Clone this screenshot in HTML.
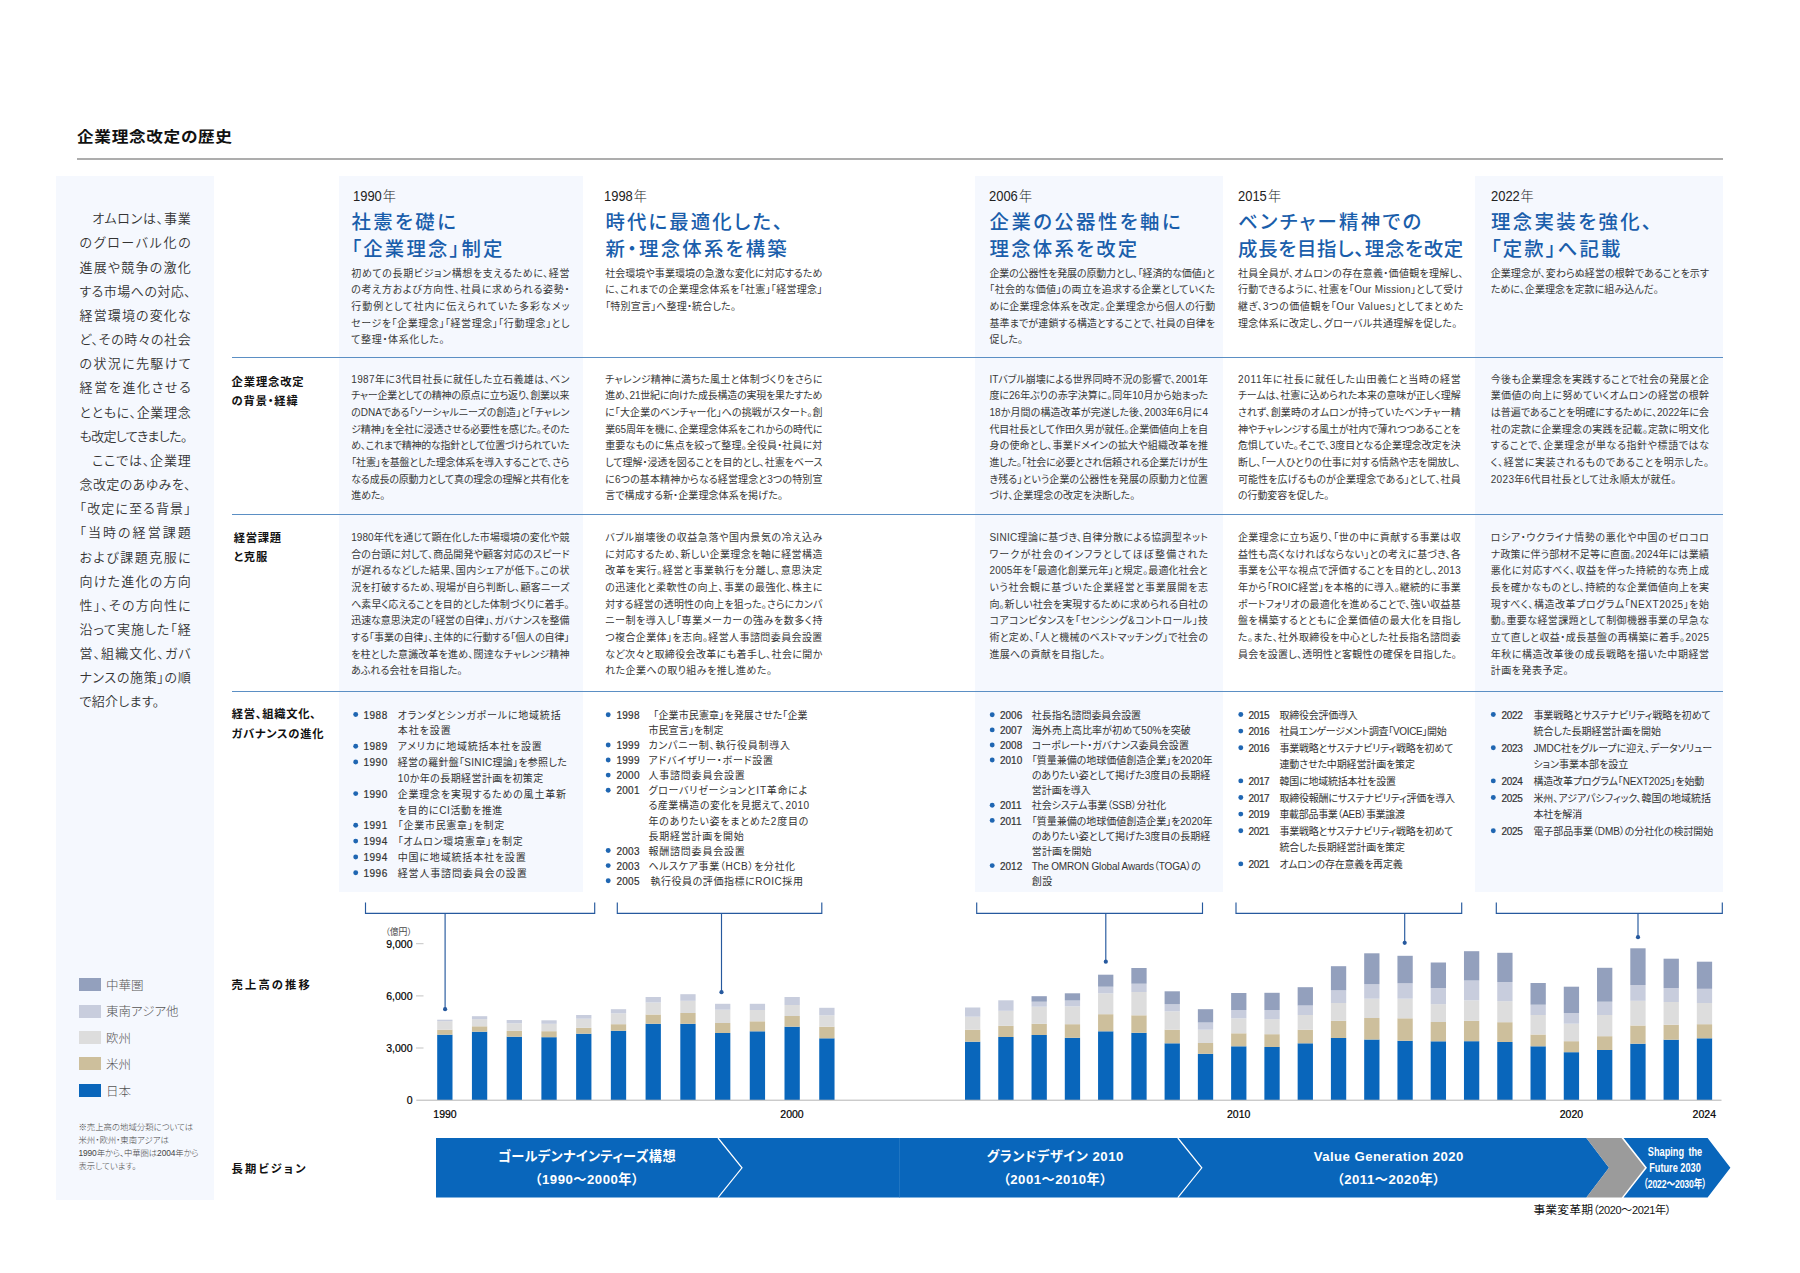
<!DOCTYPE html>
<html lang="ja">
<head>
<meta charset="utf-8">
<title>企業理念改定の歴史</title>
<style>
*{margin:0;padding:0;box-sizing:border-box}
html,body{width:1800px;height:1273px;background:#fff;overflow:hidden}
body{position:relative;font-family:"Liberation Sans","Noto Sans CJK JP",sans-serif;color:#222;font-feature-settings:"palt"}
body>div,.svg{position:absolute}
.svg{left:0;top:0}
.title{left:77.2px;top:124.2px;font-size:15px;font-weight:700;letter-spacing:.6px;line-height:26px;color:#111;white-space:nowrap;transform:scaleX(1.11);transform-origin:0 50%}
.rule{left:77px;top:158.4px;width:1645.5px;height:1.15px;background:#adadad}
.bgp{background:#f5f8fe}
.hr{left:231.8px;width:1490.8px;height:1.2px;background:#5b8fc4}
.blk{white-space:nowrap}
.side{font-size:13px;font-weight:350;color:#333}
.side .in{padding-left:12.6px}
.bd{font-size:10px;color:#383838}
.rl{left:231.6px;font-size:11.3px;font-weight:700;line-height:20px;color:#111;white-space:nowrap}
.rl.w{letter-spacing:2.1px}
.yr{font-size:13.2px;font-weight:300;line-height:24px;color:#222;white-space:nowrap}
.yr b{display:inline-block;font-weight:400;font-size:14.4px;transform:scaleX(.9);transform-origin:0 50%;margin-right:-2.4px;vertical-align:baseline}
.hd{font-size:19.4px;font-weight:500;line-height:28px;color:#1a5eab;white-space:nowrap}
.dot{width:5px;height:5px;border-radius:50%;background:#1f66b2}
.ly,.lt{position:absolute;font-size:10px;line-height:16px;color:#333;white-space:nowrap}
.ly{-webkit-text-stroke:.2px #333}

.lgb{left:78.5px;width:22.5px;height:13px}
.lgt{left:106px;font-size:12.5px;font-weight:300;line-height:18px;color:#555;white-space:nowrap}
.fn{left:78.5px;font-size:8.4px;font-weight:300;line-height:13.1px;color:#444;white-space:nowrap}
.ax{font-family:"Liberation Sans",sans-serif;font-size:10.5px;fill:#000;stroke:#000;stroke-width:.2px}
.un{font-family:"Liberation Sans","Noto Sans CJK JP",sans-serif;font-size:8.9px;fill:#4a4a4a}
.bt{width:300px;text-align:center;font-size:13.2px;font-weight:700;line-height:22.6px;color:#fff;white-space:nowrap}
.b2{letter-spacing:.5px}
.bs{width:120px;text-align:center;font-size:12.5px;font-weight:700;line-height:16.05px;color:#fff;white-space:nowrap;transform:scaleX(.735)}
.bs b{word-spacing:2.5px}
.bs span{font-size:11.8px;letter-spacing:-.2px}
.bn{font-size:11.8px;letter-spacing:.15px;line-height:16px;color:#111;white-space:nowrap}
.bn span{font-size:11px;letter-spacing:-.35px}
</style>
</head>
<body>
<div class="title">企業理念改定の歴史</div>
<div class="rule"></div>
<div class="bgp" style="left:56px;top:176px;width:158px;height:1024px"></div>
<div class="bgp" style="left:339.2px;top:176px;width:243.6px;height:715.6px"></div>
<div class="bgp" style="left:974.6px;top:176px;width:248.1px;height:715.6px"></div>
<div class="bgp" style="left:1474.8px;top:176px;width:247.9px;height:715.6px"></div>
<div class="hr" style="top:356.9px"></div>
<div class="hr" style="top:514.0px"></div>
<div class="hr" style="top:690.9px"></div>
<div class="blk side" style="left:79.50px;top:207.33px;width:111.20px;line-height:24.150px"><div class="ln in" style="letter-spacing:0.731px;"><span>オムロンは、事業</span></div><div class="ln" style="letter-spacing:1.649px;"><span>のグローバル化の</span></div><div class="ln" style="letter-spacing:1.207px;"><span>進展や競争の激化</span></div><div class="ln" style="letter-spacing:0.445px;"><span>する市場への対応、</span></div><div class="ln" style="letter-spacing:1.127px;"><span>経営環境の変化な</span></div><div class="ln" style="letter-spacing:0.654px;"><span>ど、その時々の社会</span></div><div class="ln" style="letter-spacing:1.357px;"><span>の状況に先駆けて</span></div><div class="ln" style="letter-spacing:1.636px;"><span>経営を進化させる</span></div><div class="ln" style="letter-spacing:0.670px;"><span>とともに、企業理念</span></div><div class="ln" style="letter-spacing:-0.645px;"><span>も改定してきました。</span></div><div class="ln in" style="letter-spacing:0.798px;"><span>ここでは、企業理</span></div><div class="ln" style="letter-spacing:0.412px;"><span>念改定のあゆみを、</span></div><div class="ln" style="letter-spacing:1.129px;"><span>「改定に至る背景」</span></div><div class="ln" style="letter-spacing:2.022px;"><span>「当時の経営課題</span></div><div class="ln" style="letter-spacing:1.473px;"><span>および課題克服に</span></div><div class="ln" style="letter-spacing:1.225px;"><span>向けた進化の方向</span></div><div class="ln" style="letter-spacing:1.175px;"><span>性」、その方向性に</span></div><div class="ln" style="letter-spacing:0.955px;"><span>沿って実施した「経</span></div><div class="ln" style="letter-spacing:1.062px;"><span>営、組織文化、ガバ</span></div><div class="ln" style="letter-spacing:0.656px;"><span>ナンスの施策」の順</span></div><div class="ln" style="letter-spacing:0.291px;"><span>で紹介します。</span></div></div>
<div class="rl" style="left:231.6px;top:372.6px;line-height:19.5px;letter-spacing:0.85px">企業理念改定<br>の背景・経緯</div>
<div class="rl" style="left:233.7px;top:528.5px;line-height:19.6px;letter-spacing:0.75px">経営課題<br>と克服</div>
<div class="rl" style="left:231.8px;top:703.9px;line-height:20.4px;letter-spacing:0.70px">経営、組織文化、<br>ガバナンスの進化</div>
<div class="rl w" style="top:975.3px">売上高の推移</div>
<div class="rl w" style="top:1158.6px">長期ビジョン</div>
<div class="yr" style="left:353.1px;top:184.3px"><b>1990</b><span>年</span></div>
<div class="hd" style="left:351.4px;top:208.1px;letter-spacing:2.435px">社憲を礎に</div>
<div class="hd" style="left:351.4px;top:235.4px;letter-spacing:2.184px">「企業理念」制定</div>
<div class="blk bd" style="left:351.20px;top:265.56px;width:218.30px;line-height:16.670px"><div class="ln" style="letter-spacing:0.642px;"><span>初めての長期ビジョン構想を支えるために、経営</span></div><div class="ln" style="letter-spacing:0.686px;"><span>の考え方および方向性、社員に求められる姿勢・</span></div><div class="ln" style="letter-spacing:1.023px;"><span>行動例として社内に伝えられていた多彩なメッ</span></div><div class="ln" style="letter-spacing:0.559px;"><span>セージを「企業理念」「経営理念」「行動理念」とし</span></div><div class="ln" style="letter-spacing:0.664px;"><span>て整理・体系化した。</span></div></div>
<div class="blk bd" style="left:351.20px;top:371.77px;width:218.30px;line-height:16.670px"><div class="ln" style="letter-spacing:0.399px;"><span>1987年に3代目社長に就任した立石義雄は、ベン</span></div><div class="ln" style="letter-spacing:-0.242px;"><span>チャー企業としての精神の原点に立ち返り、創業以来</span></div><div class="ln" style="letter-spacing:-0.045px;"><span>のDNAである「ソーシャルニーズの創造」と「チャレン</span></div><div class="ln" style="letter-spacing:-0.155px;"><span>ジ精神」を全社に浸透させる必要性を感じた。そのた</span></div><div class="ln" style="letter-spacing:-0.249px;"><span>め、これまで精神的な指針として位置づけられていた</span></div><div class="ln" style="letter-spacing:-0.148px;"><span>「社憲」を基盤とした理念体系を導入することで、さら</span></div><div class="ln" style="letter-spacing:-0.164px;"><span>なる成長の原動力として真の理念の理解と共有化を</span></div><div class="ln" style="letter-spacing:-0.155px;"><span>進めた。</span></div></div>
<div class="blk bd" style="left:351.20px;top:529.87px;width:218.30px;line-height:16.670px"><div class="ln" style="letter-spacing:0.081px;"><span>1980年代を通じて顕在化した市場環境の変化や競</span></div><div class="ln" style="letter-spacing:0.094px;"><span>合の台頭に対して、商品開発や顧客対応のスピード</span></div><div class="ln" style="letter-spacing:0.345px;"><span>が遅れるなどした結果、国内シェアが低下。この状</span></div><div class="ln" style="letter-spacing:0.310px;"><span>況を打破するため、現場が自ら判断し、顧客ニーズ</span></div><div class="ln" style="letter-spacing:0.026px;"><span>へ素早く応えることを目的とした体制づくりに着手。</span></div><div class="ln" style="letter-spacing:-0.055px;"><span>迅速な意思決定の「経営の自律」、ガバナンスを整備</span></div><div class="ln" style="letter-spacing:-0.068px;"><span>する「事業の自律」、主体的に行動する「個人の自律」</span></div><div class="ln" style="letter-spacing:0.163px;"><span>を柱とした意識改革を進め、闊達なチャレンジ精神</span></div><div class="ln" style="letter-spacing:0.087px;"><span>あふれる会社を目指した。</span></div></div>
<div class="ly" style="left:363.5px;top:707.6px;letter-spacing:0.50px">1988</div><div class="lt" style="left:397.7px;top:707.6px;letter-spacing:0.808px;"><span>オランダとシンガポールに地域統括</span></div>
<div class="lt" style="left:397.7px;top:723.4px;letter-spacing:0.941px;"><span>本社を設置</span></div>
<div class="ly" style="left:363.5px;top:739.3px;letter-spacing:0.50px">1989</div><div class="lt" style="left:397.7px;top:739.3px;letter-spacing:0.779px;"><span>アメリカに地域統括本社を設置</span></div>
<div class="ly" style="left:363.5px;top:755.1px;letter-spacing:0.50px">1990</div><div class="lt" style="left:397.7px;top:755.1px;letter-spacing:0.288px;"><span>経営の羅針盤「SINIC理論」を参照した</span></div>
<div class="lt" style="left:397.7px;top:770.9px;letter-spacing:0.422px;"><span>10か年の長期経営計画を初策定</span></div>
<div class="ly" style="left:363.5px;top:786.8px;letter-spacing:0.50px">1990</div><div class="lt" style="left:397.7px;top:786.8px;letter-spacing:0.794px;"><span>企業理念を実現するための風土革新</span></div>
<div class="lt" style="left:397.7px;top:802.6px;letter-spacing:0.651px;"><span>を目的にCI活動を推進</span></div>
<div class="ly" style="left:363.5px;top:818.4px;letter-spacing:0.50px">1991</div><div class="lt" style="left:397.7px;top:818.4px;letter-spacing:0.737px;"><span>「企業市民憲章」を制定</span></div>
<div class="ly" style="left:363.5px;top:834.2px;letter-spacing:0.50px">1994</div><div class="lt" style="left:397.7px;top:834.2px;letter-spacing:0.738px;"><span>「オムロン環境憲章」を制定</span></div>
<div class="ly" style="left:363.5px;top:850.1px;letter-spacing:0.50px">1994</div><div class="lt" style="left:397.7px;top:850.1px;letter-spacing:0.830px;"><span>中国に地域統括本社を設置</span></div>
<div class="ly" style="left:363.5px;top:865.9px;letter-spacing:0.50px">1996</div><div class="lt" style="left:397.7px;top:865.9px;letter-spacing:0.851px;"><span>経営人事諮問委員会の設置</span></div>
<div class="yr" style="left:604.1px;top:184.3px"><b>1998</b><span>年</span></div>
<div class="hd" style="left:605.4px;top:208.1px;letter-spacing:2.143px">時代に最適化した、</div>
<div class="hd" style="left:605.4px;top:235.4px;letter-spacing:2.255px">新・理念体系を構築</div>
<div class="blk bd" style="left:605.20px;top:265.56px;width:217.20px;line-height:16.670px"><div class="ln" style="letter-spacing:0.057px;"><span>社会環境や事業環境の急激な変化に対応するため</span></div><div class="ln" style="letter-spacing:0.299px;"><span>に、これまでの企業理念体系を「社憲」「経営理念」</span></div><div class="ln" style="letter-spacing:0.178px;"><span>「特別宣言」へ整理・統合した。</span></div></div>
<div class="blk bd" style="left:605.20px;top:371.77px;width:217.20px;line-height:16.670px"><div class="ln" style="letter-spacing:0.202px;"><span>チャレンジ精神に満ちた風土と体制づくりをさらに</span></div><div class="ln" style="letter-spacing:-0.208px;"><span>進め、21世紀に向けた成長構造の実現を果たすため</span></div><div class="ln" style="letter-spacing:0.094px;"><span>に「大企業のベンチャー化」への挑戦がスタート。創</span></div><div class="ln" style="letter-spacing:-0.131px;"><span>業65周年を機に、企業理念体系をこれからの時代に</span></div><div class="ln" style="letter-spacing:0.141px;"><span>重要なものに焦点を絞って整理。全役員・社員に対</span></div><div class="ln"><span>して理解・浸透を図ることを目的とし、社憲をベース</span></div><div class="ln" style="letter-spacing:0.111px;"><span>に6つの基本精神からなる経営理念と3つの特別宣</span></div><div class="ln" style="letter-spacing:0.094px;"><span>言で構成する新・企業理念体系を掲げた。</span></div></div>
<div class="blk bd" style="left:605.20px;top:529.87px;width:217.20px;line-height:16.670px"><div class="ln" style="letter-spacing:0.606px;"><span>バブル崩壊後の収益急落や国内景気の冷え込み</span></div><div class="ln" style="letter-spacing:0.396px;"><span>に対応するため、新しい企業理念を軸に経営構造</span></div><div class="ln" style="letter-spacing:0.546px;"><span>改革を実行。経営と事業執行を分離し、意思決定</span></div><div class="ln" style="letter-spacing:0.468px;"><span>の迅速化と柔軟性の向上、事業の最強化、株主に</span></div><div class="ln" style="letter-spacing:0.154px;"><span>対する経営の透明性の向上を狙った。さらにカンパ</span></div><div class="ln" style="letter-spacing:0.582px;"><span>ニー制を導入し「専業メーカーの強みを数多く持</span></div><div class="ln" style="letter-spacing:0.408px;"><span>つ複合企業体」を志向。経営人事諮問委員会設置</span></div><div class="ln" style="letter-spacing:0.382px;"><span>など次々と取締役会改革にも着手し、社会に開か</span></div><div class="ln" style="letter-spacing:0.438px;"><span>れた企業への取り組みを推し進めた。</span></div></div>
<div class="ly" style="left:616.4px;top:707.9px;letter-spacing:0.30px">1998</div><div class="lt" style="left:653.3px;top:707.9px;letter-spacing:0.124px;"><span>「企業市民憲章」を発展させた「企業</span></div>
<div class="lt" style="left:648.4px;top:723.0px;letter-spacing:0.109px;"><span>市民宣言」を制定</span></div>
<div class="ly" style="left:616.4px;top:738.1px;letter-spacing:0.30px">1999</div><div class="lt" style="left:648.4px;top:738.1px;letter-spacing:0.766px;"><span>カンパニー制、執行役員制導入</span></div>
<div class="ly" style="left:616.4px;top:753.1px;letter-spacing:0.30px">1999</div><div class="lt" style="left:648.4px;top:753.1px;letter-spacing:0.761px;"><span>アドバイザリー・ボード設置</span></div>
<div class="ly" style="left:616.4px;top:768.2px;letter-spacing:0.30px">2000</div><div class="lt" style="left:648.4px;top:768.2px;letter-spacing:0.800px;"><span>人事諮問委員会設置</span></div>
<div class="ly" style="left:616.4px;top:783.3px;letter-spacing:0.30px">2001</div><div class="lt" style="left:648.4px;top:783.3px;letter-spacing:0.732px;"><span>グローバリゼーションとIT革命によ</span></div>
<div class="lt" style="left:648.4px;top:798.4px;letter-spacing:0.498px;"><span>る産業構造の変化を見据えて、2010</span></div>
<div class="lt" style="left:648.4px;top:813.5px;letter-spacing:0.752px;"><span>年のありたい姿をまとめた2度目の</span></div>
<div class="lt" style="left:648.4px;top:828.5px;letter-spacing:0.771px;"><span>長期経営計画を開始</span></div>
<div class="ly" style="left:616.4px;top:843.6px;letter-spacing:0.30px">2003</div><div class="lt" style="left:648.4px;top:843.6px;letter-spacing:0.800px;"><span>報酬諮問委員会設置</span></div>
<div class="ly" style="left:616.4px;top:858.7px;letter-spacing:0.30px">2003</div><div class="lt" style="left:648.4px;top:858.7px;letter-spacing:0.613px;"><span>ヘルスケア事業（HCB）を分社化</span></div>
<div class="ly" style="left:616.4px;top:873.8px;letter-spacing:0.30px">2005</div><div class="lt" style="left:650.5px;top:873.8px;letter-spacing:0.541px;"><span>執行役員の評価指標にROIC採用</span></div>
<div class="yr" style="left:989.3px;top:184.3px"><b>2006</b><span>年</span></div>
<div class="hd" style="left:989.6px;top:208.1px;letter-spacing:2.412px">企業の公器性を軸に</div>
<div class="hd" style="left:989.6px;top:235.4px;letter-spacing:2.225px">理念体系を改定</div>
<div class="blk bd" style="left:989.40px;top:265.56px;width:225.80px;line-height:16.670px"><div class="ln" style="letter-spacing:-0.150px;"><span>企業の公器性を発展の原動力とし、「経済的な価値」と</span></div><div class="ln" style="letter-spacing:0.308px;"><span>「社会的な価値」の両立を追求する企業としていくた</span></div><div class="ln" style="letter-spacing:0.181px;"><span>めに企業理念体系を改定。企業理念から個人の行動</span></div><div class="ln" style="letter-spacing:0.137px;"><span>基準までが連鎖する構造とすることで、社員の自律を</span></div><div class="ln" style="letter-spacing:0.159px;"><span>促した。</span></div></div>
<div class="blk bd" style="left:989.40px;top:371.77px;width:218.60px;line-height:16.670px"><div class="ln" style="letter-spacing:-0.024px;"><span>ITバブル崩壊による世界同時不況の影響で、2001年</span></div><div class="ln"><span>度に26年ぶりの赤字決算に。同年10月から始まった</span></div><div class="ln" style="letter-spacing:0.095px;"><span>18か月間の構造改革が完遂した後、2003年6月に4</span></div><div class="ln" style="letter-spacing:-0.072px;"><span>代目社長として作田久男が就任。企業価値向上を自</span></div><div class="ln" style="letter-spacing:0.186px;"><span>身の使命とし、事業ドメインの拡大や組織改革を推</span></div><div class="ln" style="letter-spacing:-0.188px;"><span>進した。「社会に必要とされ信頼される企業だけが生</span></div><div class="ln" style="letter-spacing:0.091px;"><span>き残る」という企業の公器性を発展の原動力と位置</span></div><div class="ln"><span>づけ、企業理念の改定を決断した。</span></div></div>
<div class="blk bd" style="left:989.40px;top:529.87px;width:218.60px;line-height:16.670px"><div class="ln" style="letter-spacing:0.310px;"><span>SINIC理論に基づき、自律分散による協調型ネット</span></div><div class="ln" style="letter-spacing:1.108px;"><span>ワークが社会のインフラとしてほぼ整備された</span></div><div class="ln" style="letter-spacing:0.187px;"><span>2005年を「最適化創業元年」と規定。最適化社会と</span></div><div class="ln" style="letter-spacing:0.727px;"><span>いう社会観に基づいた企業経営と事業展開を志</span></div><div class="ln" style="letter-spacing:0.095px;"><span>向。新しい社会を実現するために求められる自社の</span></div><div class="ln" style="letter-spacing:0.398px;"><span>コアコンピタンスを「センシング&amp;コントロール」技</span></div><div class="ln" style="letter-spacing:0.284px;"><span>術と定め、「人と機械のベストマッチング」で社会の</span></div><div class="ln" style="letter-spacing:0.310px;"><span>進展への貢献を目指した。</span></div></div>
<div class="ly" style="left:1000.1px;top:707.9px;letter-spacing:-0.05px">2006</div><div class="lt" style="left:1031.8px;top:707.9px;letter-spacing:-0.070px;"><span>社長指名諮問委員会設置</span></div>
<div class="ly" style="left:1000.1px;top:723.0px;letter-spacing:-0.05px">2007</div><div class="lt" style="left:1031.8px;top:723.0px;letter-spacing:0.050px;"><span>海外売上高比率が初めて50%を突破</span></div>
<div class="ly" style="left:1000.1px;top:738.1px;letter-spacing:-0.05px">2008</div><div class="lt" style="left:1031.8px;top:738.1px;letter-spacing:0.033px;"><span>コーポレート・ガバナンス委員会設置</span></div>
<div class="ly" style="left:1000.1px;top:753.1px;letter-spacing:-0.05px">2010</div><div class="lt" style="left:1031.8px;top:753.1px;letter-spacing:-0.021px;"><span>「質量兼備の地球価値創造企業」を2020年</span></div>
<div class="lt" style="left:1031.8px;top:768.2px;letter-spacing:0.055px;"><span>のありたい姿として掲げた3度目の長期経</span></div>
<div class="lt" style="left:1031.8px;top:783.3px;letter-spacing:-0.047px;"><span>営計画を導入</span></div>
<div class="ly" style="left:1000.1px;top:798.4px;letter-spacing:-0.05px">2011</div><div class="lt" style="left:1031.8px;top:798.4px;letter-spacing:-0.128px;"><span>社会システム事業（SSB）分社化</span></div>
<div class="ly" style="left:1000.1px;top:813.5px;letter-spacing:-0.05px">2011</div><div class="lt" style="left:1031.8px;top:813.5px;letter-spacing:-0.021px;"><span>「質量兼備の地球価値創造企業」を2020年</span></div>
<div class="lt" style="left:1031.8px;top:828.5px;letter-spacing:0.055px;"><span>のありたい姿として掲げた3度目の長期経</span></div>
<div class="lt" style="left:1031.8px;top:843.6px;letter-spacing:0.093px;"><span>営計画を開始</span></div>
<div class="ly" style="left:1000.1px;top:858.7px;letter-spacing:-0.05px">2012</div><div class="lt" style="left:1031.8px;top:858.7px;letter-spacing:-0.145px;"><span>The OMRON Global Awards（TOGA）の</span></div>
<div class="lt" style="left:1031.8px;top:873.8px;letter-spacing:0.400px;"><span>創設</span></div>
<div class="yr" style="left:1238.4px;top:184.3px"><b>2015</b><span>年</span></div>
<div class="hd" style="left:1238.1px;top:208.1px;letter-spacing:2.300px">ベンチャー精神での</div>
<div class="hd" style="left:1238.1px;top:235.4px;letter-spacing:0.737px">成長を目指し、理念を改定</div>
<div class="blk bd" style="left:1237.90px;top:265.56px;width:225.40px;line-height:16.670px"><div class="ln" style="letter-spacing:0.286px;"><span>社員全員が、オムロンの存在意義・価値観を理解し、</span></div><div class="ln" style="letter-spacing:0.303px;"><span>行動できるように、社憲を「Our Mission」として受け</span></div><div class="ln" style="letter-spacing:0.558px;"><span>継ぎ、3つの価値観を「Our Values」としてまとめた</span></div><div class="ln" style="letter-spacing:0.303px;"><span>理念体系に改定し、グローバル共通理解を促した。</span></div></div>
<div class="blk bd" style="left:1237.90px;top:371.77px;width:222.80px;line-height:16.670px"><div class="ln" style="letter-spacing:0.708px;"><span>2011年に社長に就任した山田義仁と当時の経営</span></div><div class="ln" style="letter-spacing:-0.123px;"><span>チームは、社憲に込められた本来の意味が正しく理解</span></div><div class="ln" style="letter-spacing:0.097px;"><span>されず、創業時のオムロンが持っていたベンチャー精</span></div><div class="ln" style="letter-spacing:-0.098px;"><span>神やチャレンジする風土が社内で薄れつつあることを</span></div><div class="ln" style="letter-spacing:-0.089px;"><span>危惧していた。そこで、3度目となる企業理念改定を決</span></div><div class="ln" style="letter-spacing:-0.054px;"><span>断し、「一人ひとりの仕事に対する情熱や志を開放し、</span></div><div class="ln" style="letter-spacing:0.100px;"><span>可能性を広げるものが企業理念である」として、社員</span></div><div class="ln" style="letter-spacing:-0.054px;"><span>の行動変容を促した。</span></div></div>
<div class="blk bd" style="left:1237.90px;top:529.87px;width:222.80px;line-height:16.670px"><div class="ln" style="letter-spacing:0.416px;"><span>企業理念に立ち返り、「世の中に貢献する事業は収</span></div><div class="ln" style="letter-spacing:0.189px;"><span>益性も高くなければならない」との考えに基づき、各</span></div><div class="ln" style="letter-spacing:0.221px;"><span>事業を公平な視点で評価することを目的とし、2013</span></div><div class="ln" style="letter-spacing:0.248px;"><span>年から「ROIC経営」を本格的に導入。継続的に事業</span></div><div class="ln" style="letter-spacing:0.166px;"><span>ポートフォリオの最適化を進めることで、強い収益基</span></div><div class="ln" style="letter-spacing:0.549px;"><span>盤を構築するとともに企業価値の最大化を目指し</span></div><div class="ln" style="letter-spacing:0.384px;"><span>た。また、社外取締役を中心とした社長指名諮問委</span></div><div class="ln" style="letter-spacing:0.248px;"><span>員会を設置し、透明性と客観性の確保を目指した。</span></div></div>
<div class="ly" style="left:1248.6px;top:707.6px;letter-spacing:-0.40px">2015</div><div class="lt" style="left:1279.4px;top:707.6px;letter-spacing:-0.243px;"><span>取締役会評価導入</span></div>
<div class="ly" style="left:1248.6px;top:724.2px;letter-spacing:-0.40px">2016</div><div class="lt" style="left:1279.4px;top:724.2px;letter-spacing:-0.337px;"><span>社員エンゲージメント調査「VOICE」開始</span></div>
<div class="ly" style="left:1248.6px;top:740.8px;letter-spacing:-0.40px">2016</div><div class="lt" style="left:1279.4px;top:740.8px;letter-spacing:-0.207px;"><span>事業戦略とサステナビリティ戦略を初めて</span></div>
<div class="lt" style="left:1279.4px;top:757.4px;letter-spacing:-0.132px;"><span>連動させた中期経営計画を策定</span></div>
<div class="ly" style="left:1248.6px;top:774.0px;letter-spacing:-0.40px">2017</div><div class="lt" style="left:1279.4px;top:774.0px;letter-spacing:-0.207px;"><span>韓国に地域統括本社を設置</span></div>
<div class="ly" style="left:1248.6px;top:790.6px;letter-spacing:-0.40px">2017</div><div class="lt" style="left:1279.4px;top:790.6px;letter-spacing:-0.205px;"><span>取締役報酬にサステナビリティ評価を導入</span></div>
<div class="ly" style="left:1248.6px;top:807.2px;letter-spacing:-0.40px">2019</div><div class="lt" style="left:1279.4px;top:807.2px;letter-spacing:-0.315px;"><span>車載部品事業（AEB）事業譲渡</span></div>
<div class="ly" style="left:1248.6px;top:823.8px;letter-spacing:-0.40px">2021</div><div class="lt" style="left:1279.4px;top:823.8px;letter-spacing:-0.207px;"><span>事業戦略とサステナビリティ戦略を初めて</span></div>
<div class="lt" style="left:1279.4px;top:840.4px;letter-spacing:-0.136px;"><span>統合した長期経営計画を策定</span></div>
<div class="ly" style="left:1248.6px;top:857.0px;letter-spacing:-0.40px">2021</div><div class="lt" style="left:1279.4px;top:857.0px;letter-spacing:-0.207px;"><span>オムロンの存在意義を再定義</span></div>
<div class="yr" style="left:1490.9px;top:184.3px"><b>2022</b><span>年</span></div>
<div class="hd" style="left:1490.9px;top:208.1px;letter-spacing:2.416px">理念実装を強化、</div>
<div class="hd" style="left:1490.9px;top:235.4px;letter-spacing:2.150px">「定款」へ記載</div>
<div class="blk bd" style="left:1490.70px;top:265.56px;width:218.30px;line-height:16.670px"><div class="ln" style="letter-spacing:0.080px;"><span>企業理念が、変わらぬ経営の根幹であることを示す</span></div><div class="ln" style="letter-spacing:0.080px;"><span>ために、企業理念を定款に組み込んだ。</span></div></div>
<div class="blk bd" style="left:1490.70px;top:371.77px;width:218.30px;line-height:16.670px"><div class="ln" style="letter-spacing:0.321px;"><span>今後も企業理念を実践することで社会の発展と企</span></div><div class="ln" style="letter-spacing:0.351px;"><span>業価値の向上に努めていくオムロンの経営の根幹</span></div><div class="ln" style="letter-spacing:0.014px;"><span>は普遍であることを明確にするために、2022年に会</span></div><div class="ln" style="letter-spacing:0.263px;"><span>社の定款に企業理念の実践を記載。定款に明文化</span></div><div class="ln" style="letter-spacing:0.584px;"><span>することで、企業理念が単なる指針や標語ではな</span></div><div class="ln" style="letter-spacing:0.560px;"><span>く、経営に実装されるものであることを明示した。</span></div><div class="ln" style="letter-spacing:0.336px;"><span>2023年6代目社長として辻永順太が就任。</span></div></div>
<div class="blk bd" style="left:1490.70px;top:529.87px;width:218.30px;line-height:16.670px"><div class="ln" style="letter-spacing:0.610px;"><span>ロシア・ウクライナ情勢の悪化や中国のゼロコロ</span></div><div class="ln" style="letter-spacing:0.187px;"><span>ナ政策に伴う部材不足等に直面。2024年には業績</span></div><div class="ln" style="letter-spacing:0.556px;"><span>悪化に対応すべく、収益を伴った持続的な売上成</span></div><div class="ln" style="letter-spacing:0.436px;"><span>長を確かなものとし、持続的な企業価値向上を実</span></div><div class="ln" style="letter-spacing:0.560px;"><span>現すべく、構造改革プログラム「NEXT2025」を始</span></div><div class="ln" style="letter-spacing:0.374px;"><span>動。重要な経営課題として制御機器事業の早急な</span></div><div class="ln" style="letter-spacing:0.449px;"><span>立て直しと収益・成長基盤の再構築に着手。2025</span></div><div class="ln" style="letter-spacing:0.541px;"><span>年秋に構造改革後の成長戦略を描いた中期経営</span></div><div class="ln" style="letter-spacing:0.495px;"><span>計画を発表予定。</span></div></div>
<div class="ly" style="left:1501.5px;top:707.6px;letter-spacing:-0.30px">2022</div><div class="lt" style="left:1533.4px;top:707.6px;letter-spacing:-0.018px;"><span>事業戦略とサステナビリティ戦略を初めて</span></div>
<div class="lt" style="left:1533.4px;top:724.2px;letter-spacing:0.030px;"><span>統合した長期経営計画を開始</span></div>
<div class="ly" style="left:1501.5px;top:740.8px;letter-spacing:-0.30px">2023</div><div class="lt" style="left:1533.4px;top:740.8px;letter-spacing:-0.068px;"><span>JMDC社をグループに迎え、データソリュー</span></div>
<div class="lt" style="left:1533.4px;top:757.4px;letter-spacing:0.011px;"><span>ション事業本部を設立</span></div>
<div class="ly" style="left:1501.5px;top:774.0px;letter-spacing:-0.30px">2024</div><div class="lt" style="left:1533.4px;top:774.0px;letter-spacing:-0.142px;"><span>構造改革プログラム「NEXT2025」を始動</span></div>
<div class="ly" style="left:1501.5px;top:790.6px;letter-spacing:-0.30px">2025</div><div class="lt" style="left:1533.4px;top:790.6px;letter-spacing:-0.018px;"><span>米州、アジアパシフィック、韓国の地域統括</span></div>
<div class="lt" style="left:1533.4px;top:807.2px;letter-spacing:-0.084px;"><span>本社を解消</span></div>
<div class="ly" style="left:1501.5px;top:823.8px;letter-spacing:-0.30px">2025</div><div class="lt" style="left:1533.4px;top:823.8px;letter-spacing:-0.085px;"><span>電子部品事業（DMB）の分社化の検討開始</span></div>
<div class="lgb" style="top:978.0px;background:#93a0bd"></div><div class="lgt" style="top:976.8px">中華圏</div>
<div class="lgb" style="top:1004.5px;background:#c8cddd"></div><div class="lgt" style="top:1003.2px">東南アジア他</div>
<div class="lgb" style="top:1030.9px;background:#dddddd"></div><div class="lgt" style="top:1029.7px">欧州</div>
<div class="lgb" style="top:1057.3px;background:#cdbf9c"></div><div class="lgt" style="top:1056.2px">米州</div>
<div class="lgb" style="top:1083.8px;background:#0966bb"></div><div class="lgt" style="top:1082.6px">日本</div>
<div class="fn" style="top:1120.7px">※売上高の地域分類については<br>米州・欧州・東南アジアは<br><span style="letter-spacing:-.12px">1990年から、中華圏は2004年から</span><br>表示しています。</div>
<svg class="svg" width="1800" height="1273" viewBox="0 0 1800 1273">
<path d="M365.5 902.5V913.3H594.7V902.5M445.1 913.3V1009.2" fill="none" stroke="#26599e" stroke-width="1.15"/><circle cx="445.1" cy="1009.2" r="2.1" fill="#26599e"/>
<path d="M617.3 902.5V913.3H821.8V902.5M721.5 913.3V992.2" fill="none" stroke="#26599e" stroke-width="1.15"/><circle cx="721.5" cy="992.2" r="2.1" fill="#26599e"/>
<path d="M976.7 902.5V913.3H1202.5V902.5M1105.8 913.3V961.7" fill="none" stroke="#26599e" stroke-width="1.15"/><circle cx="1105.8" cy="961.7" r="2.1" fill="#26599e"/>
<path d="M1236.0 902.5V913.3H1461.7V902.5M1404.7 913.3V942.8" fill="none" stroke="#26599e" stroke-width="1.15"/><circle cx="1404.7" cy="942.8" r="2.1" fill="#26599e"/>
<path d="M1496.3 902.5V913.3H1722.3V902.5M1638.0 913.3V937.2" fill="none" stroke="#26599e" stroke-width="1.15"/><circle cx="1638.0" cy="937.2" r="2.1" fill="#26599e"/>
<g fill="#1f66b2"><circle cx="355.7" cy="714.5" r="2.45"/><circle cx="355.7" cy="746.2" r="2.45"/><circle cx="355.7" cy="762.0" r="2.45"/><circle cx="355.7" cy="793.6" r="2.45"/><circle cx="355.7" cy="825.3" r="2.45"/><circle cx="355.7" cy="841.1" r="2.45"/><circle cx="355.7" cy="857.0" r="2.45"/><circle cx="355.7" cy="872.8" r="2.45"/><circle cx="608.2" cy="714.8" r="2.45"/><circle cx="608.2" cy="745.0" r="2.45"/><circle cx="608.2" cy="760.0" r="2.45"/><circle cx="608.2" cy="775.1" r="2.45"/><circle cx="608.2" cy="790.2" r="2.45"/><circle cx="608.2" cy="850.5" r="2.45"/><circle cx="608.2" cy="865.6" r="2.45"/><circle cx="608.2" cy="880.7" r="2.45"/><circle cx="992.2" cy="714.8" r="2.45"/><circle cx="992.2" cy="729.9" r="2.45"/><circle cx="992.2" cy="745.0" r="2.45"/><circle cx="992.2" cy="760.0" r="2.45"/><circle cx="992.2" cy="805.3" r="2.45"/><circle cx="992.2" cy="820.4" r="2.45"/><circle cx="992.2" cy="865.6" r="2.45"/><circle cx="1240.8" cy="714.5" r="2.45"/><circle cx="1240.8" cy="731.1" r="2.45"/><circle cx="1240.8" cy="747.7" r="2.45"/><circle cx="1240.8" cy="780.9" r="2.45"/><circle cx="1240.8" cy="797.5" r="2.45"/><circle cx="1240.8" cy="814.1" r="2.45"/><circle cx="1240.8" cy="830.7" r="2.45"/><circle cx="1240.8" cy="863.9" r="2.45"/><circle cx="1493.3" cy="714.5" r="2.45"/><circle cx="1493.3" cy="747.7" r="2.45"/><circle cx="1493.3" cy="780.9" r="2.45"/><circle cx="1493.3" cy="797.5" r="2.45"/><circle cx="1493.3" cy="830.7" r="2.45"/></g>
<rect x="437.20" y="1034.70" width="15.3" height="65.30" fill="#0966bb"/><rect x="437.20" y="1029.70" width="15.3" height="5.00" fill="#cdbf9c"/><rect x="437.20" y="1021.20" width="15.3" height="8.50" fill="#dddddd"/><rect x="437.20" y="1019.70" width="15.3" height="1.50" fill="#c8cddd"/>
<rect x="471.93" y="1031.70" width="15.3" height="68.30" fill="#0966bb"/><rect x="471.93" y="1026.30" width="15.3" height="5.40" fill="#cdbf9c"/><rect x="471.93" y="1019.20" width="15.3" height="7.10" fill="#dddddd"/><rect x="471.93" y="1016.20" width="15.3" height="3.00" fill="#c8cddd"/>
<rect x="506.66" y="1036.70" width="15.3" height="63.30" fill="#0966bb"/><rect x="506.66" y="1030.80" width="15.3" height="5.90" fill="#cdbf9c"/><rect x="506.66" y="1023.30" width="15.3" height="7.50" fill="#dddddd"/><rect x="506.66" y="1020.00" width="15.3" height="3.30" fill="#c8cddd"/>
<rect x="541.39" y="1037.20" width="15.3" height="62.80" fill="#0966bb"/><rect x="541.39" y="1031.20" width="15.3" height="6.00" fill="#cdbf9c"/><rect x="541.39" y="1023.80" width="15.3" height="7.40" fill="#dddddd"/><rect x="541.39" y="1020.30" width="15.3" height="3.50" fill="#c8cddd"/>
<rect x="576.12" y="1033.70" width="15.3" height="66.30" fill="#0966bb"/><rect x="576.12" y="1027.80" width="15.3" height="5.90" fill="#cdbf9c"/><rect x="576.12" y="1018.70" width="15.3" height="9.10" fill="#dddddd"/><rect x="576.12" y="1015.00" width="15.3" height="3.70" fill="#c8cddd"/>
<rect x="610.85" y="1030.80" width="15.3" height="69.20" fill="#0966bb"/><rect x="610.85" y="1024.20" width="15.3" height="6.60" fill="#cdbf9c"/><rect x="610.85" y="1013.30" width="15.3" height="10.90" fill="#dddddd"/><rect x="610.85" y="1009.20" width="15.3" height="4.10" fill="#c8cddd"/>
<rect x="645.58" y="1023.80" width="15.3" height="76.20" fill="#0966bb"/><rect x="645.58" y="1014.50" width="15.3" height="9.30" fill="#cdbf9c"/><rect x="645.58" y="1002.50" width="15.3" height="12.00" fill="#dddddd"/><rect x="645.58" y="997.00" width="15.3" height="5.50" fill="#c8cddd"/>
<rect x="680.31" y="1023.80" width="15.3" height="76.20" fill="#0966bb"/><rect x="680.31" y="1013.00" width="15.3" height="10.80" fill="#cdbf9c"/><rect x="680.31" y="1000.80" width="15.3" height="12.20" fill="#dddddd"/><rect x="680.31" y="994.20" width="15.3" height="6.60" fill="#c8cddd"/>
<rect x="715.04" y="1033.00" width="15.3" height="67.00" fill="#0966bb"/><rect x="715.04" y="1023.00" width="15.3" height="10.00" fill="#cdbf9c"/><rect x="715.04" y="1009.70" width="15.3" height="13.30" fill="#dddddd"/><rect x="715.04" y="1003.80" width="15.3" height="5.90" fill="#c8cddd"/>
<rect x="749.77" y="1031.30" width="15.3" height="68.70" fill="#0966bb"/><rect x="749.77" y="1021.30" width="15.3" height="10.00" fill="#cdbf9c"/><rect x="749.77" y="1010.00" width="15.3" height="11.30" fill="#dddddd"/><rect x="749.77" y="1003.80" width="15.3" height="6.20" fill="#c8cddd"/>
<rect x="784.50" y="1026.70" width="15.3" height="73.30" fill="#0966bb"/><rect x="784.50" y="1016.00" width="15.3" height="10.70" fill="#cdbf9c"/><rect x="784.50" y="1005.00" width="15.3" height="11.00" fill="#dddddd"/><rect x="784.50" y="997.00" width="15.3" height="8.00" fill="#c8cddd"/>
<rect x="819.23" y="1038.30" width="15.3" height="61.70" fill="#0966bb"/><rect x="819.23" y="1026.70" width="15.3" height="11.60" fill="#cdbf9c"/><rect x="819.23" y="1015.30" width="15.3" height="11.40" fill="#dddddd"/><rect x="819.23" y="1007.80" width="15.3" height="7.50" fill="#c8cddd"/>
<rect x="965.00" y="1041.70" width="15.3" height="58.30" fill="#0966bb"/><rect x="965.00" y="1029.70" width="15.3" height="12.00" fill="#cdbf9c"/><rect x="965.00" y="1016.70" width="15.3" height="13.00" fill="#dddddd"/><rect x="965.00" y="1007.50" width="15.3" height="9.20" fill="#c8cddd"/>
<rect x="998.26" y="1037.00" width="15.3" height="63.00" fill="#0966bb"/><rect x="998.26" y="1025.80" width="15.3" height="11.20" fill="#cdbf9c"/><rect x="998.26" y="1010.80" width="15.3" height="15.00" fill="#dddddd"/><rect x="998.26" y="1000.30" width="15.3" height="10.50" fill="#c8cddd"/>
<rect x="1031.53" y="1035.00" width="15.3" height="65.00" fill="#0966bb"/><rect x="1031.53" y="1023.80" width="15.3" height="11.20" fill="#cdbf9c"/><rect x="1031.53" y="1006.70" width="15.3" height="17.10" fill="#dddddd"/><rect x="1031.53" y="1001.70" width="15.3" height="5.00" fill="#c8cddd"/><rect x="1031.53" y="996.20" width="15.3" height="5.50" fill="#93a0bd"/>
<rect x="1064.80" y="1037.80" width="15.3" height="62.20" fill="#0966bb"/><rect x="1064.80" y="1024.20" width="15.3" height="13.60" fill="#cdbf9c"/><rect x="1064.80" y="1006.30" width="15.3" height="17.90" fill="#dddddd"/><rect x="1064.80" y="1000.50" width="15.3" height="5.80" fill="#c8cddd"/><rect x="1064.80" y="993.30" width="15.3" height="7.20" fill="#93a0bd"/>
<rect x="1098.06" y="1031.30" width="15.3" height="68.70" fill="#0966bb"/><rect x="1098.06" y="1014.20" width="15.3" height="17.10" fill="#cdbf9c"/><rect x="1098.06" y="993.30" width="15.3" height="20.90" fill="#dddddd"/><rect x="1098.06" y="986.70" width="15.3" height="6.60" fill="#c8cddd"/><rect x="1098.06" y="974.70" width="15.3" height="12.00" fill="#93a0bd"/>
<rect x="1131.33" y="1032.80" width="15.3" height="67.20" fill="#0966bb"/><rect x="1131.33" y="1015.30" width="15.3" height="17.50" fill="#cdbf9c"/><rect x="1131.33" y="992.00" width="15.3" height="23.30" fill="#dddddd"/><rect x="1131.33" y="983.70" width="15.3" height="8.30" fill="#c8cddd"/><rect x="1131.33" y="968.00" width="15.3" height="15.70" fill="#93a0bd"/>
<rect x="1164.59" y="1043.30" width="15.3" height="56.70" fill="#0966bb"/><rect x="1164.59" y="1029.70" width="15.3" height="13.60" fill="#cdbf9c"/><rect x="1164.59" y="1011.30" width="15.3" height="18.40" fill="#dddddd"/><rect x="1164.59" y="1004.20" width="15.3" height="7.10" fill="#c8cddd"/><rect x="1164.59" y="991.30" width="15.3" height="12.90" fill="#93a0bd"/>
<rect x="1197.86" y="1053.80" width="15.3" height="46.20" fill="#0966bb"/><rect x="1197.86" y="1043.00" width="15.3" height="10.80" fill="#cdbf9c"/><rect x="1197.86" y="1029.70" width="15.3" height="13.30" fill="#dddddd"/><rect x="1197.86" y="1022.50" width="15.3" height="7.20" fill="#c8cddd"/><rect x="1197.86" y="1009.20" width="15.3" height="13.30" fill="#93a0bd"/>
<rect x="1231.12" y="1046.30" width="15.3" height="53.70" fill="#0966bb"/><rect x="1231.12" y="1033.30" width="15.3" height="13.00" fill="#cdbf9c"/><rect x="1231.12" y="1018.30" width="15.3" height="15.00" fill="#dddddd"/><rect x="1231.12" y="1010.00" width="15.3" height="8.30" fill="#c8cddd"/><rect x="1231.12" y="993.00" width="15.3" height="17.00" fill="#93a0bd"/>
<rect x="1264.38" y="1047.00" width="15.3" height="53.00" fill="#0966bb"/><rect x="1264.38" y="1034.20" width="15.3" height="12.80" fill="#cdbf9c"/><rect x="1264.38" y="1019.20" width="15.3" height="15.00" fill="#dddddd"/><rect x="1264.38" y="1010.00" width="15.3" height="9.20" fill="#c8cddd"/><rect x="1264.38" y="992.80" width="15.3" height="17.20" fill="#93a0bd"/>
<rect x="1297.65" y="1043.30" width="15.3" height="56.70" fill="#0966bb"/><rect x="1297.65" y="1029.70" width="15.3" height="13.60" fill="#cdbf9c"/><rect x="1297.65" y="1015.00" width="15.3" height="14.70" fill="#dddddd"/><rect x="1297.65" y="1005.50" width="15.3" height="9.50" fill="#c8cddd"/><rect x="1297.65" y="987.20" width="15.3" height="18.30" fill="#93a0bd"/>
<rect x="1330.91" y="1038.00" width="15.3" height="62.00" fill="#0966bb"/><rect x="1330.91" y="1020.80" width="15.3" height="17.20" fill="#cdbf9c"/><rect x="1330.91" y="1003.00" width="15.3" height="17.80" fill="#dddddd"/><rect x="1330.91" y="990.30" width="15.3" height="12.70" fill="#c8cddd"/><rect x="1330.91" y="966.20" width="15.3" height="24.10" fill="#93a0bd"/>
<rect x="1364.18" y="1039.50" width="15.3" height="60.50" fill="#0966bb"/><rect x="1364.18" y="1018.00" width="15.3" height="21.50" fill="#cdbf9c"/><rect x="1364.18" y="998.70" width="15.3" height="19.30" fill="#dddddd"/><rect x="1364.18" y="984.20" width="15.3" height="14.50" fill="#c8cddd"/><rect x="1364.18" y="953.30" width="15.3" height="30.90" fill="#93a0bd"/>
<rect x="1397.44" y="1040.80" width="15.3" height="59.20" fill="#0966bb"/><rect x="1397.44" y="1018.30" width="15.3" height="22.50" fill="#cdbf9c"/><rect x="1397.44" y="998.70" width="15.3" height="19.60" fill="#dddddd"/><rect x="1397.44" y="983.30" width="15.3" height="15.40" fill="#c8cddd"/><rect x="1397.44" y="955.80" width="15.3" height="27.50" fill="#93a0bd"/>
<rect x="1430.71" y="1041.30" width="15.3" height="58.70" fill="#0966bb"/><rect x="1430.71" y="1022.00" width="15.3" height="19.30" fill="#cdbf9c"/><rect x="1430.71" y="1004.20" width="15.3" height="17.80" fill="#dddddd"/><rect x="1430.71" y="988.00" width="15.3" height="16.20" fill="#c8cddd"/><rect x="1430.71" y="962.50" width="15.3" height="25.50" fill="#93a0bd"/>
<rect x="1463.97" y="1041.20" width="15.3" height="58.80" fill="#0966bb"/><rect x="1463.97" y="1020.80" width="15.3" height="20.40" fill="#cdbf9c"/><rect x="1463.97" y="1000.30" width="15.3" height="20.50" fill="#dddddd"/><rect x="1463.97" y="980.50" width="15.3" height="19.80" fill="#c8cddd"/><rect x="1463.97" y="951.20" width="15.3" height="29.30" fill="#93a0bd"/>
<rect x="1497.24" y="1042.00" width="15.3" height="58.00" fill="#0966bb"/><rect x="1497.24" y="1022.20" width="15.3" height="19.80" fill="#cdbf9c"/><rect x="1497.24" y="1001.20" width="15.3" height="21.00" fill="#dddddd"/><rect x="1497.24" y="982.00" width="15.3" height="19.20" fill="#c8cddd"/><rect x="1497.24" y="952.80" width="15.3" height="29.20" fill="#93a0bd"/>
<rect x="1530.51" y="1046.30" width="15.3" height="53.70" fill="#0966bb"/><rect x="1530.51" y="1034.50" width="15.3" height="11.80" fill="#cdbf9c"/><rect x="1530.51" y="1015.00" width="15.3" height="19.50" fill="#dddddd"/><rect x="1530.51" y="1004.70" width="15.3" height="10.30" fill="#c8cddd"/><rect x="1530.51" y="983.00" width="15.3" height="21.70" fill="#93a0bd"/>
<rect x="1563.77" y="1052.20" width="15.3" height="47.80" fill="#0966bb"/><rect x="1563.77" y="1041.20" width="15.3" height="11.00" fill="#cdbf9c"/><rect x="1563.77" y="1023.70" width="15.3" height="17.50" fill="#dddddd"/><rect x="1563.77" y="1013.00" width="15.3" height="10.70" fill="#c8cddd"/><rect x="1563.77" y="986.70" width="15.3" height="26.30" fill="#93a0bd"/>
<rect x="1597.03" y="1050.00" width="15.3" height="50.00" fill="#0966bb"/><rect x="1597.03" y="1036.20" width="15.3" height="13.80" fill="#cdbf9c"/><rect x="1597.03" y="1015.00" width="15.3" height="21.20" fill="#dddddd"/><rect x="1597.03" y="1001.70" width="15.3" height="13.30" fill="#c8cddd"/><rect x="1597.03" y="967.80" width="15.3" height="33.90" fill="#93a0bd"/>
<rect x="1630.30" y="1043.70" width="15.3" height="56.30" fill="#0966bb"/><rect x="1630.30" y="1025.50" width="15.3" height="18.20" fill="#cdbf9c"/><rect x="1630.30" y="1000.80" width="15.3" height="24.70" fill="#dddddd"/><rect x="1630.30" y="985.00" width="15.3" height="15.80" fill="#c8cddd"/><rect x="1630.30" y="948.30" width="15.3" height="36.70" fill="#93a0bd"/>
<rect x="1663.57" y="1039.70" width="15.3" height="60.30" fill="#0966bb"/><rect x="1663.57" y="1024.70" width="15.3" height="15.00" fill="#cdbf9c"/><rect x="1663.57" y="1002.00" width="15.3" height="22.70" fill="#dddddd"/><rect x="1663.57" y="988.00" width="15.3" height="14.00" fill="#c8cddd"/><rect x="1663.57" y="958.70" width="15.3" height="29.30" fill="#93a0bd"/>
<rect x="1696.83" y="1038.30" width="15.3" height="61.70" fill="#0966bb"/><rect x="1696.83" y="1024.20" width="15.3" height="14.10" fill="#cdbf9c"/><rect x="1696.83" y="1003.00" width="15.3" height="21.20" fill="#dddddd"/><rect x="1696.83" y="988.80" width="15.3" height="14.20" fill="#c8cddd"/><rect x="1696.83" y="961.70" width="15.3" height="27.10" fill="#93a0bd"/>
<path d="M416.3 1100.2H1721.5" stroke="#b4b4b4" stroke-width="1"/>
<path d="M416 943.7H423.5" stroke="#b4b4b4" stroke-width="0.8"/><text class="ax" x="412.5" y="947.8" text-anchor="end">9,000</text>
<path d="M416 995.9H423.5" stroke="#b4b4b4" stroke-width="0.8"/><text class="ax" x="412.5" y="1000.0" text-anchor="end">6,000</text>
<path d="M416 1048.0H423.5" stroke="#b4b4b4" stroke-width="0.8"/><text class="ax" x="412.5" y="1052.1" text-anchor="end">3,000</text>
<text class="ax" x="412.5" y="1104.1" text-anchor="end">0</text>
<text class="un" x="385.3" y="934.9">（億円）</text>
<text class="ax" x="445.0" y="1117.9" text-anchor="middle">1990</text><text class="ax" x="792.0" y="1117.9" text-anchor="middle">2000</text><text class="ax" x="1238.7" y="1117.9" text-anchor="middle">2010</text><text class="ax" x="1571.4" y="1117.9" text-anchor="middle">2020</text><text class="ax" x="1704.3" y="1117.9" text-anchor="middle">2024</text>
</svg>
<svg class="svg" width="1800" height="1273" viewBox="0 0 1800 1273">
<path d="M436 1138.0H1586.4L1609 1167.8L1586.4 1197.6H436Z" fill="#0966bb"/>
<path d="M1586.4 1138.0H1621.5L1645 1167.8L1621.8 1197.6H1586.4L1609 1167.8Z" fill="#9b9b9b"/>
<path d="M1623.6 1138.0H1707.6L1730.4 1167.8L1707.6 1197.6H1623.6L1647 1167.8Z" fill="#0966bb"/>
<path d="M718.0 1138.0L742.0 1167.8L718.0 1197.6" fill="none" stroke="#fff" stroke-width="1.2"/>
<path d="M1177.8 1138.0L1201.8 1167.8L1177.8 1197.6" fill="none" stroke="#fff" stroke-width="1.2"/>
<path d="M899.5 1138.0V1197.6" stroke="#2f7fc8" stroke-width="0.6"/>
</svg>
<div class="bt" style="left:437.0px;top:1146px"><span style="letter-spacing:0.40px">ゴールデンナインティーズ構想</span><br><span class="b2">（1990〜2000年）</span></div>
<div class="bt" style="left:905.3px;top:1146px"><span style="letter-spacing:0.50px">グランドデザイン 2010</span><br><span class="b2">（2001〜2010年）</span></div>
<div class="bt" style="left:1238.8px;top:1146px"><span style="letter-spacing:0.45px">Value Generation 2020</span><br><span class="b2">（2011〜2020年）</span></div>
<div class="bs" style="left:1615.0px;top:1143.9px"><b>Shaping the</b><br>Future 2030<br><span>（2022〜2030年）</span></div>
<div class="bn" style="left:1533.4px;top:1201.5px">事業変革期<span>（2020〜2021年）</span></div>
</body>
</html>
